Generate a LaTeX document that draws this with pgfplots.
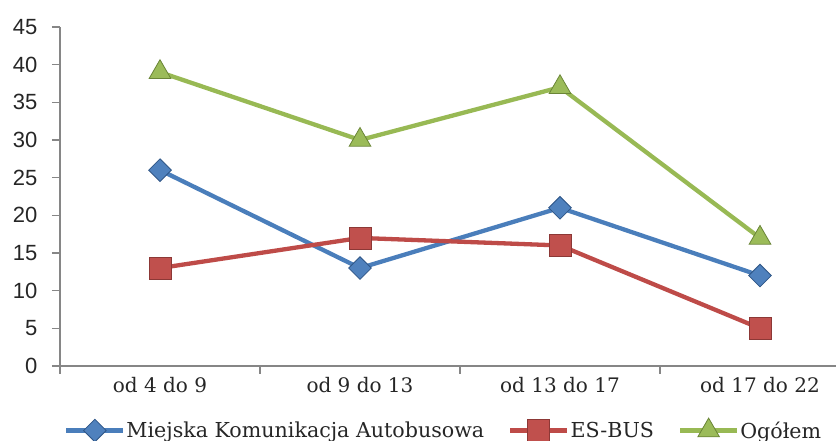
\documentclass[border=0pt]{standalone}
\usepackage{pgfplots}
\pgfplotsset{compat=1.18}
\usepackage{fontspec}
\setmainfont{DejaVu Serif}
\newfontfamily\ticksf{Liberation Sans}

\definecolor{axisgray}{HTML}{868686}
\definecolor{mkaLine}{HTML}{4A7EBB}
\definecolor{mkaFill}{HTML}{4F81BD}
\definecolor{mkaEdge}{HTML}{2E5586}
\definecolor{esLine}{HTML}{BE4B48}
\definecolor{esFill}{HTML}{C0504D}
\definecolor{esEdge}{HTML}{8C3836}
\definecolor{ogLine}{HTML}{98B954}
\definecolor{ogFill}{HTML}{9BBB59}
\definecolor{ogEdge}{HTML}{6A8537}

\begin{document}
\begin{tikzpicture}
\clip (0pt,0pt) rectangle (836pt,441pt);
\begin{axis}[
    at={(60pt,75pt)}, anchor=south west,
    scale only axis, width=800pt, height=339pt,
    xmin=-0.5, xmax=3.5, ymin=0, ymax=45,
    axis lines*=left,
    axis line style={draw=axisgray, line width=1.3pt},
    tick align=outside,
    major tick length=8pt, minor tick length=8pt,
    tick style={draw=axisgray, line width=1.3pt},
    xtick={0,1,2,3},
    xticklabels={od 4 do 9, od 9 do 13, od 13 do 17, od 17 do 22},
    major x tick style={draw=none},
    minor xtick={-0.5,0.5,1.5,2.5,3.5},
    ytick={0,5,...,45},
    /pgf/number format/assume math mode=true,
    yticklabel style={font=\ticksf\fontsize{22}{26}\selectfont, text=black!85, xshift=-11pt},
    xticklabel style={font=\fontsize{20}{24}\selectfont, text=black!85},
    legend columns=-1,
    legend style={at={(4/800,-64/339)}, anchor=west, draw=none, fill=none,
        inner sep=0pt, font=\fontsize{20.6}{24}\selectfont, text=black!85,
        nodes={inner sep=1pt, anchor=west},
        /tikz/every even column/.append style={column sep=23pt}},
    legend image code/.code={\draw[mark repeat=2,mark phase=2,#1]
        plot coordinates {(0pt,0pt) (28.5pt,0pt) (57pt,0pt)};},
    every axis plot/.append style={line width=4.3pt},
]
\addplot[mkaLine, mark=square*, mark size=8pt,
    mark options={rotate=45, fill=mkaFill, draw=mkaEdge, line width=0.8pt}]
    coordinates {(0,26) (1,13) (2,21) (3,12)};
\addplot[esLine, mark=square*, mark size=11pt,
    mark options={fill=esFill, draw=esEdge, line width=0.8pt}]
    coordinates {(0,13) (1,17) (2,16) (3,5)};
\addplot[ogLine, mark=triangle*, mark size=12.5pt,
    mark options={fill=ogFill, draw=ogEdge, line width=0.8pt}]
    coordinates {(0,39) (1,30) (2,37) (3,17)};
\legend{Miejska Komunikacja Autobusowa, ES-BUS, Ogółem}
\end{axis}
\end{tikzpicture}
\end{document}
